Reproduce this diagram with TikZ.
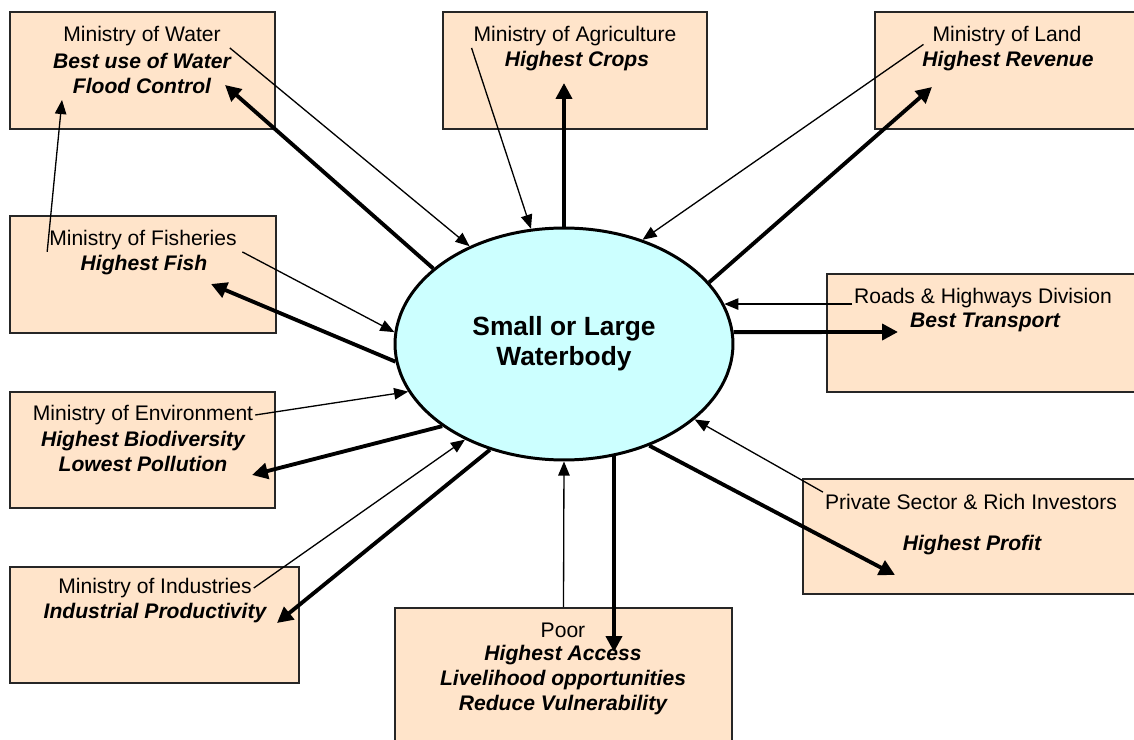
\documentclass[tikz,border=0pt]{standalone}
\usepackage{fontspec}
\setmainfont{Liberation Sans}
\usetikzlibrary{arrows.meta,shapes.geometric,fit}
\definecolor{boxfill}{HTML}{FFE4CA}
\definecolor{poolfill}{HTML}{CCFFFF}
\begin{document}
    \begin{tikzpicture}[x=0.02cm,y=-0.02cm,
        orgbox/.style={draw=black!85,line width=1pt,fill=boxfill,inner sep=0pt},
        pool/.style={ellipse,draw,line width=1.7pt,fill=poolfill,minimum width=6.76cm,minimum height=4.64cm,inner sep=0pt,align=center,font=\fontsize{15}{17}\selectfont\bfseries},
        who/.style={inner sep=1pt,font=\fontsize{12}{14.2}\selectfont},
        aim/.style={inner sep=1pt,align=center,font=\fontsize{12}{14.2}\selectfont\bfseries\itshape},
        claim/.style={-{Triangle[length=8pt,width=6.5pt]},line width=0.75pt},
        gain/.style={-{Triangle[length=9pt,width=9pt]},line width=2.2pt}]
        \useasboundingbox (0,0) rectangle (1134,740);

        \node[orgbox,fit={(10,12) (275,129)}] (water) {};
        \node[orgbox,fit={(443,12) (707,129)}] (agri) {};
        \node[orgbox,fit={(875,12) (1140,129)}] (land) {};
        \node[orgbox,fit={(10,216) (276,333)}] (fish) {};
        \node[orgbox,fit={(827,274) (1140,392)}] (roads) {};
        \node[orgbox,fit={(10,392) (275,508)}] (env) {};
        \node[orgbox,fit={(10,567) (299,683)}] (ind) {};
        \node[orgbox,fit={(803,479) (1140,594)}] (priv) {};
        \node[orgbox,fit={(395,608) (732,750)}] (poor) {};

        \node[pool] (pool) at (564,344) {Small or Large\\Waterbody};

        \node[who] (waterT) at (142,36) {Ministry of Water};
        \node[aim] (waterG) at (142,73.5) {Best use of Water\\Flood Control};
        \node[who] (agriT) at (575,36) {Ministry of Agriculture};
        \node[aim] (agriG) at (577,61) {Highest Crops};
        \node[who] (landT) at (1007,36) {Ministry of Land};
        \node[aim] (landG) at (1008,61) {Highest Revenue};
        \node[who] (fishT) at (143,240) {Ministry of Fisheries};
        \node[aim] (fishG) at (144,265) {Highest Fish};
        \node[who] (roadsT) at (983,298) {Roads \& Highways Division};
        \node[aim] (roadsG) at (985,322) {Best Transport};
        \node[who] (envT) at (143,415) {Ministry of Environment};
        \node[aim] (envG) at (143,451.5) {Highest Biodiversity\\Lowest Pollution};
        \node[who] (indT) at (155,588) {Ministry of Industries};
        \node[aim] (indG) at (155,613) {Industrial Productivity};
        \node[who] (privT) at (971,502) {Private Sector \& Rich Investors};
        \node[aim] (privG) at (972,545) {Highest Profit};
        \node[who] (poorT) at (563,630) {Poor};
        \node[aim] (poorG) at (563,680) {Highest Access\\Livelihood opportunities\\Reduce Vulnerability};

        \coordinate (waterTip) at (225,85);
        \coordinate (fishUp) at (62,100);
        \coordinate (agriTip) at (564,83);
        \coordinate (landTip) at (932,87);
        \coordinate (fishTip) at (211,284);
        \coordinate (roadsTip) at (898,332);
        \coordinate (envTip) at (252,475);
        \coordinate (indTip) at (277,623);
        \coordinate (poorTip) at (613,652);
        \coordinate (privTip) at (895,575);

        \draw[claim] ([xshift=4pt]waterT.south east) -- (pool.134);
        \draw[gain] (pool.150) -- (waterTip);
        \draw[claim] (fishT.south west) -- (fishUp);
        \draw[claim] (agriT.south west) -- (pool.106);
        \draw[gain] (pool.90) -- (agriTip);
        \draw[claim] ([xshift=-4pt,yshift=2pt]landT.south west) -- (pool.53);
        \draw[gain] (pool.23) -- (landTip);
        \draw[claim] ([xshift=2pt]fishT.south east) -- (pool.176);
        \draw[gain] (pool.186) -- (fishTip);
        \draw[claim] (roadsT.west |- pool.14) -- (pool.14);
        \draw[gain] (pool.4) -- (roadsTip);
        \draw[claim] (envT.east) -- (pool.197);
        \draw[gain] (pool.214) -- (envTip);
        \draw[claim] (indT.east) -- (pool.224);
        \draw[gain] (pool.235) -- (indTip);
        \draw[claim] (poor.north) -- (pool.270);
        \draw[gain] (pool.294) -- (pool.294 |- poorTip);
        \draw[claim] (privT.north west) -- (pool.330);
        \draw[gain] (pool.310) -- (privTip);
    \end{tikzpicture}
\end{document}
